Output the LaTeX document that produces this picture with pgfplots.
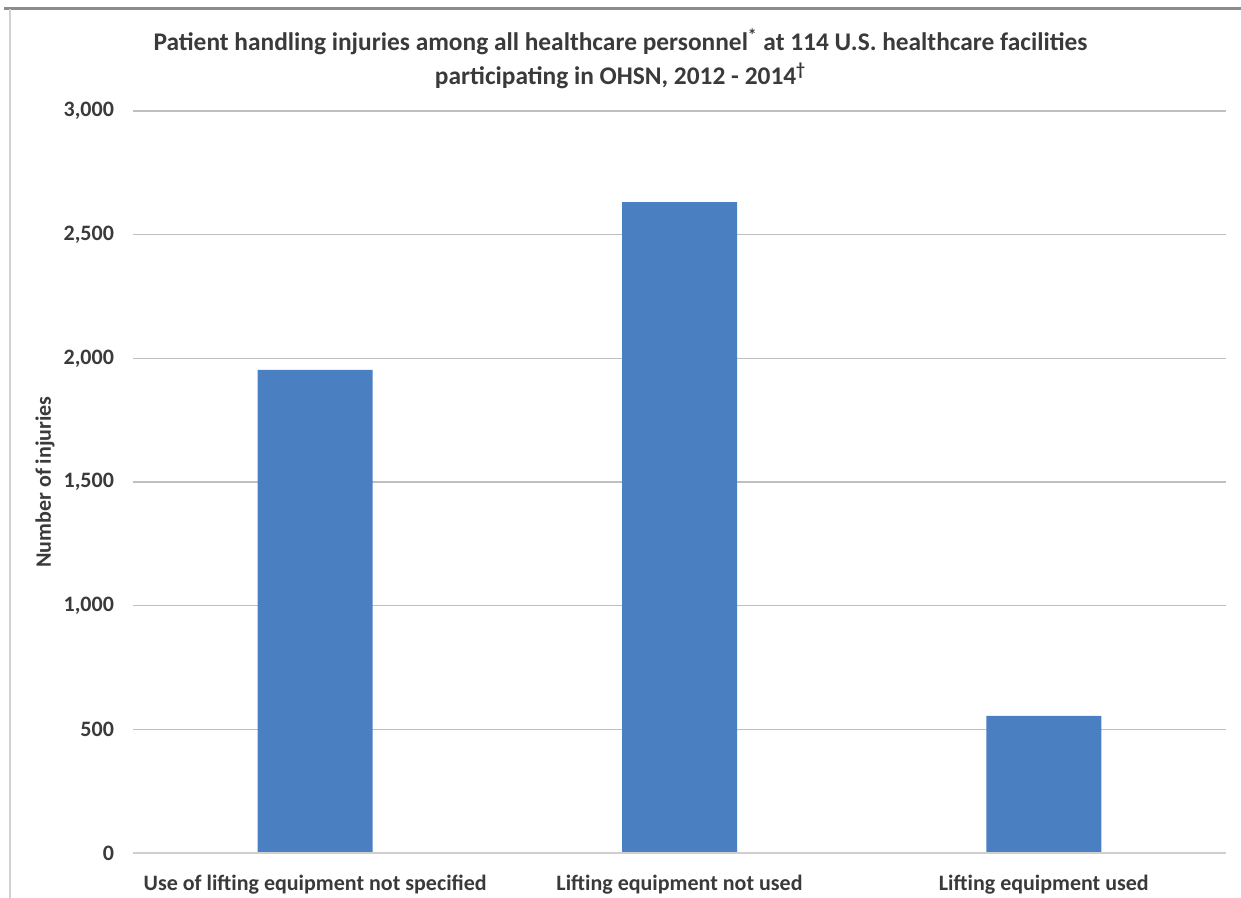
\documentclass[border=0pt]{standalone}
\usepackage{pgfplots}
\pgfplotsset{compat=1.18}
\usepackage{fontspec}
\setmainfont{Carlito}
\definecolor{barblue}{HTML}{4A7FC2}
\definecolor{txt}{HTML}{3A3A3A}
\definecolor{grid}{HTML}{CFCFCF}
\begin{document}
\begin{tikzpicture}[x=0.5pt,y=0.5pt]
\useasboundingbox (0,0) rectangle (1241,898);
\draw[line width=1.5pt, color=black!45] (4,889) -- (1241,889);
\draw[line width=1pt, color=black!18] (10,889) -- (10,0);
\begin{axis}[
  at={(66.5pt,22.5pt)}, anchor=south west,
  width=546.5pt, height=371pt, scale only axis,
  xmin=-0.5, xmax=2.5, ymin=0, ymax=3000,
  axis line style={draw=none},
  ytick={0,500,1000,1500,2000,2500,3000},
  ymajorgrids, xmajorgrids=false, grid style={grid, line width=0.8pt},
  major tick length=0pt, tick style={draw=none},
  xtick={0,1,2},
  xticklabels={Use of lifting equipment not specified, Lifting equipment not used, Lifting equipment used},
  /pgf/number format/assume math mode=true,
  /pgf/number format/1000 sep={,},
  tick label style={font=\bfseries\fontsize{11}{13}\selectfont, text=txt},
  yticklabel style={xshift=-6pt},
  xticklabel style={yshift=-7.5pt},
  ylabel={Number of injuries},
  ylabel style={font=\bfseries\fontsize{11}{13}\selectfont, text=txt, at={(axis description cs:-0.0805,0.5)}, anchor=center, rotate=0},
  title={Patient handling injuries among all healthcare personnel\textsuperscript{*} at 114 U.S. healthcare facilities\\participating in OHSN, 2012 - 2014\textsuperscript{\dag}},
  title style={font=\bfseries\fontsize{12.7}{17}\selectfont, text=txt, align=center, yshift=1.5pt, xshift=-29.5pt},
  clip=false,
]
\addplot[ybar, bar width=57.5pt, fill=barblue, draw=none] coordinates {(0,1953) (1,2632) (2,554)};
\draw[grid, line width=1pt] (axis cs:-0.5,0) -- (axis cs:2.5,0);
\end{axis}
\end{tikzpicture}
\end{document}
